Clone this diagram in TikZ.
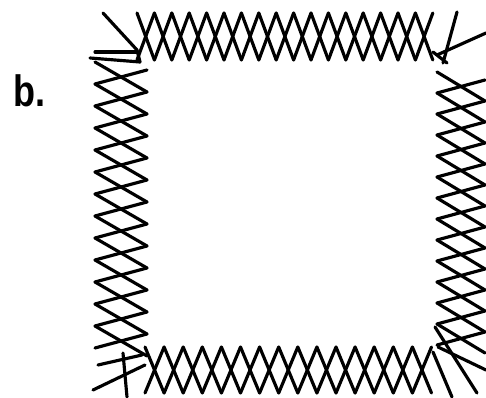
\documentclass[tikz,border=0pt]{standalone}
\usepackage{fontspec}
\setmainfont{Liberation Sans}
\usepackage{tikz}

% two crossed zigzags along one side of the frame
% #1,#2 start; #3,#4 step along the side; #5,#6 across the band; #7 steps
\newcommand{\stitchband}[7]{%
  \foreach \k in {1,...,#7}{
    \pgfmathsetmacro{\a}{mod(\k-1,2)}
    \pgfmathsetmacro{\b}{mod(\k,2)}
    \draw (#1+\k*#3-#3+\a*#5, #2+\k*#4-#4+\a*#6) -- (#1+\k*#3+\b*#5, #2+\k*#4+\b*#6);
    \draw (#1+\k*#3-#3+#5-\a*#5, #2+\k*#4-#4+#6-\a*#6) -- (#1+\k*#3+#5-\b*#5, #2+\k*#4+#6-\b*#6);
  }
}

\begin{document}
\begin{tikzpicture}[x=0.02cm, y=-0.02cm, line width=1.8pt, line cap=round, line join=round]
    \useasboundingbox (0,0) rectangle (486,398);
    \node[anchor=base west, font=\fontsize{25}{28}\selectfont\bfseries, inner sep=0pt] (label) at (12,107) {\scalebox{0.82}[1]{b.}};

    % the four sides
    \stitchband{137}{13}{17.4}{0}{0}{47}{17}
    \stitchband{95}{62}{0}{22}{52}{8}{13}
    \stitchband{437}{72}{0}{21}{48}{8}{13}
    \stitchband{145}{347}{19.1}{0}{0}{46}{15}

    % loose thread ends at the corners
    \draw (103,13) -- (137,50) -- (140,62);
    \draw (95,52) -- (137,52);
    \draw (90,58) -- (140,62);
    \draw (457,12) -- (443,63);
    \draw (486,33) -- (437,55);
    \draw (433,52) -- (447,63);
    \draw (93,390) -- (145,365);
    \draw (98,365) -- (142,355);
    \draw (123,353) -- (127,397);
    \draw (435,327) -- (477,393);
    \draw (438,347) -- (486,370);
    \draw (433,352) -- (452,397);
\end{tikzpicture}
\end{document}
